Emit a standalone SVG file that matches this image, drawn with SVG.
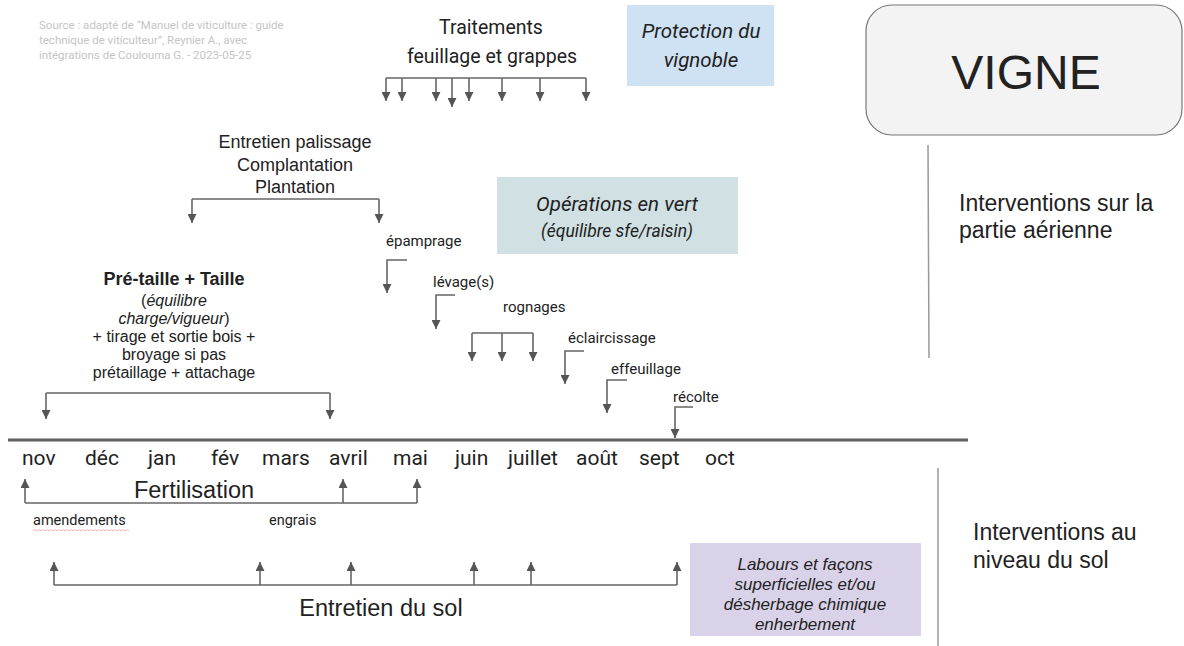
<svg xmlns="http://www.w3.org/2000/svg" width="1184" height="646" viewBox="0 0 1184 646">
<style>
.ro{font-family:Roboto,"Liberation Sans",sans-serif;fill:#222}
.ar{font-family:"Liberation Sans",Arial,sans-serif;fill:#222}
.it{font-style:italic}
.ln{fill:none;stroke:#666;stroke-width:1.6}
.arr{fill:none;stroke:#666;stroke-width:1.6;marker-end:url(#ah)}
.div{stroke:#999;stroke-width:1.5}
.src{font-family:Roboto,"Liberation Sans",sans-serif;font-size:11.5px;fill:#c4c4c4}
.sm{font-size:15px}
.mo{font-size:21px}
</style>
<defs>
<marker id="ah" viewBox="0 0 10 10" refX="10" refY="5" markerWidth="10" markerHeight="9" markerUnits="userSpaceOnUse" orient="auto">
<path d="M0,0 L10,5 L0,10 z" fill="#555"/>
</marker>
</defs>

<g id="source">
<text class="src" x="39" y="29">Source : adapté de “Manuel de viticulture : guide</text>
<text class="src" x="39" y="44">technique de viticulteur”, Reynier A., avec</text>
<text class="src" x="39" y="59">intégrations de Coulouma G. - 2023-05-25</text>
</g>

<g id="vigne">
<rect x="866" y="5" width="316" height="130" rx="26" fill="#f3f3f3" stroke="#777" stroke-width="1.2"/>
<text class="ar" x="1026" y="89" font-size="48" text-anchor="middle">VIGNE</text>
</g>

<g id="protection">
<rect x="627" y="5" width="147" height="81" fill="#cfe2f3"/>
<text class="ro it" x="701" y="38" font-size="20.5" text-anchor="middle">Protection du</text>
<text class="ro it" x="701" y="67" font-size="20.5" text-anchor="middle">vignoble</text>
</g>

<g id="traitements">
<text class="ro" x="491" y="34" font-size="19.5" text-anchor="middle">Traitements</text>
<text class="ro" x="492" y="63" font-size="19.5" text-anchor="middle">feuillage et grappes</text>
</g>

<g id="operations-vert">
<rect x="497" y="177" width="241" height="77" fill="#d0e0e3"/>
<text class="ro it" x="617" y="211" font-size="20.5" text-anchor="middle">Opérations en vert</text>
<text class="ro it" x="617" y="237" font-size="17.5" text-anchor="middle">(équilibre sfe/raisin)</text>
</g>

<g id="palissage">
<text class="ar" x="295" y="148" font-size="18" text-anchor="middle">Entretien palissage</text>
<text class="ar" x="295" y="171" font-size="18" text-anchor="middle">Complantation</text>
<text class="ar" x="295" y="193" font-size="18" text-anchor="middle">Plantation</text>
</g>

<g id="taille">
<text class="ar" x="174" y="285" font-size="18" font-weight="bold" text-anchor="middle">Pré-taille + Taille</text>
<text class="ar" x="174" y="306" font-size="16" text-anchor="middle">(<tspan class="it">équilibre</tspan></text>
<text class="ar" x="174" y="324" font-size="16" text-anchor="middle"><tspan class="it">charge/vigueur</tspan>)</text>
<text class="ar" x="174" y="342" font-size="16" text-anchor="middle">+ tirage et sortie bois +</text>
<text class="ar" x="174" y="360" font-size="16" text-anchor="middle">broyage si pas</text>
<text class="ar" x="174" y="378" font-size="16" text-anchor="middle">prétaillage + attachage</text>
</g>

<g id="ops-labels">
<text class="ro sm" x="386" y="246">épamprage</text>
<text class="ro sm" x="433" y="287">lévage(s)</text>
<text class="ro sm" x="503" y="312">rognages</text>
<text class="ro sm" x="568" y="343">éclaircissage</text>
<text class="ro sm" x="611" y="374">effeuillage</text>
<text class="ro sm" x="673" y="402">récolte</text>
</g>

<g id="aerien">
<text class="ar" x="959" y="211" font-size="23" >Interventions sur la</text>
<text class="ar" x="959" y="238" font-size="23">partie aérienne</text>
</g>

<g id="sol">
<text class="ar" x="973" y="540" font-size="23">Interventions au</text>
<text class="ar" x="973" y="568" font-size="23">niveau du sol</text>
</g>

<g id="mois">
<text class="ro mo" x="22" y="465">nov</text>
<text class="ro mo" x="85" y="465">déc</text>
<text class="ro mo" x="148" y="465">jan</text>
<text class="ro mo" x="211" y="465">fév</text>
<text class="ro mo" x="262" y="465">mars</text>
<text class="ro mo" x="329" y="465">avril</text>
<text class="ro mo" x="393" y="465">mai</text>
<text class="ro mo" x="455" y="465">juin</text>
<text class="ro mo" x="508" y="465">juillet</text>
<text class="ro mo" x="576" y="465">août</text>
<text class="ro mo" x="639" y="465">sept</text>
<text class="ro mo" x="705" y="465">oct</text>
</g>

<g id="fertilisation">
<text class="ar" x="194" y="498" font-size="23.5" text-anchor="middle">Fertilisation</text>
<text class="ro" x="33" y="525" font-size="14.5">amendements</text>
<path d="M33,531 l2,-1.5 l2,1.5 l2,-1.5 l2,1.5 l2,-1.5 l2,1.5 l2,-1.5 l2,1.5 l2,-1.5 l2,1.5 l2,-1.5 l2,1.5 l2,-1.5 l2,1.5 l2,-1.5 l2,1.5 l2,-1.5 l2,1.5 l2,-1.5 l2,1.5 l2,-1.5 l2,1.5 l2,-1.5 l2,1.5 l2,-1.5 l2,1.5 l2,-1.5 l2,1.5 l2,-1.5 l2,1.5 l2,-1.5 l2,1.5 l2,-1.5 l2,1.5 l2,-1.5 l2,1.5 l2,-1.5 l2,1.5 l2,-1.5 l2,1.5 l2,-1.5 l2,1.5 l2,-1.5 l2,1.5 l2,-1.5 l2,1.5 l2,-1.5 l2,1.5" fill="none" stroke="#f4a0a0" stroke-width="0.8"/>
<text class="ro" x="269" y="525" font-size="14.5">engrais</text>
</g>

<g id="labours">
<rect x="690" y="543" width="231" height="93" fill="#d9d2e9"/>
<text class="ar it" x="805" y="570" font-size="17" text-anchor="middle">Labours et façons</text>
<text class="ar it" x="805" y="590" font-size="17" text-anchor="middle">superficielles et/ou</text>
<text class="ar it" x="805" y="610" font-size="17" text-anchor="middle">désherbage chimique</text>
<text class="ar it" x="805" y="630" font-size="17" text-anchor="middle">enherbement</text>
</g>

<g id="entretien-sol">
<text class="ar" x="381" y="616" font-size="23.5" text-anchor="middle">Entretien du sol</text>
</g>

<g id="connectors">
<line class="div" x1="928" y1="145" x2="929" y2="358"/>
<line class="div" x1="938" y1="468" x2="938" y2="646"/>
<line x1="8" y1="440" x2="968" y2="440" stroke="#5f5f5f" stroke-width="3.2"/>

<path class="ln" d="M386,78 H586"/>
<path class="arr" d="M386,78 V101"/>
<path class="arr" d="M402,78 V101"/>
<path class="arr" d="M436,78 V101"/>
<path class="arr" d="M452,78 V107"/>
<path class="arr" d="M469,78 V101"/>
<path class="arr" d="M502,78 V101"/>
<path class="arr" d="M540,78 V101"/>
<path class="arr" d="M586,78 V101"/>

<path class="ln" d="M192,199 H379"/>
<path class="arr" d="M192,199 V223"/>
<path class="arr" d="M379,199 V223"/>

<path class="arr" d="M407,260 H387 V293"/>
<path class="arr" d="M455,295 H436 V329"/>
<path class="ln" d="M472,333 H533"/>
<path class="arr" d="M472,333 V361"/>
<path class="arr" d="M502,333 V361"/>
<path class="arr" d="M533,333 V361"/>
<path class="arr" d="M584,351 H565 V384"/>
<path class="arr" d="M627,380 H607 V413"/>
<path class="arr" d="M693,407 H675 V438"/>

<path class="ln" d="M46,393 H330"/>
<path class="arr" d="M46,393 V419"/>
<path class="arr" d="M330,393 V419"/>

<path class="ln" d="M25,503 H417"/>
<path class="arr" d="M25,503 V479"/>
<path class="arr" d="M343,503 V479"/>
<path class="arr" d="M417,503 V479"/>

<path class="ln" d="M54,585 H677"/>
<path class="arr" d="M54,585 V562"/>
<path class="arr" d="M260,585 V562"/>
<path class="arr" d="M351,585 V562"/>
<path class="arr" d="M474,585 V562"/>
<path class="arr" d="M531,585 V562"/>
<path class="arr" d="M677,585 V562"/>
</g>
</svg>
